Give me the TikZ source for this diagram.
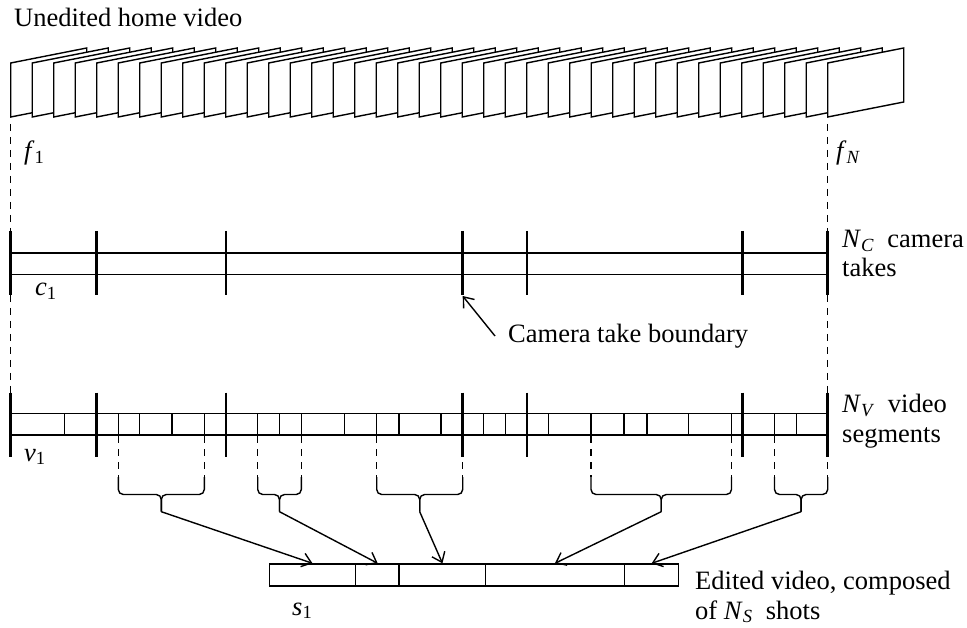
\documentclass[tikz,border=0pt]{standalone}
\usepackage{fontspec}
\setmainfont{Liberation Serif}
\usetikzlibrary{arrows.meta}

\begin{document}
\begin{tikzpicture}[x=1pt, y=-1pt,
  lbl/.style={inner sep=0pt, align=left, font=\fontsize{26.5}{29.5}\selectfont},
  frame/.style={draw, fill=white, line width=1.4pt, line join=miter},
  band/.style={line width=1.6pt},
  tick/.style={line width=2.6pt},
  thintick/.style={line width=1.2pt},
  guide/.style={line width=1.2pt, dash pattern=on 7pt off 6pt},
  shot/.style={draw, line width=1.4pt, minimum height=22pt, inner sep=0pt, anchor=west},
  brc/.style={line width=1.4pt, rounded corners=5pt},
  arr/.style={line width=1.4pt, -{Straight Barb[length=9pt, width=14pt, line width=1.4pt]}}]
  \useasboundingbox (0,0) rectangle (967,628);

  \node[lbl, anchor=base west] (title) at (14,27) {Unedited home video};
  \foreach \i in {0,...,38} {
    \pgfmathsetmacro\fx{10.7+21.5*\i}
    \draw[frame] (\fx,63) -- (\fx,117) -- (\fx+76,102) -- (\fx+76,48) -- cycle;
  }
  \node[lbl, anchor=base west] (f1) at (24,160) {\textit{f}\textsubscript{1}};
  \node[lbl, anchor=base west] (fN) at (836,160) {\textit{f}\textsubscript{\textit{N}}};

  \foreach \x in {10.7,827.7}
    \draw[guide] (\x,124) -- (\x,231) (\x,295) -- (\x,392.7);

  \draw[band] (10.7,253) -- (827.7,253) (10.7,274.5) -- (827.7,274.5);
  \foreach \x in {10.7,96.7,226,462.7,526.9,742.2,827.7}
    \draw[tick] (\x,231) -- (\x,295);
  \coordinate (cut) at (462.7,296);
  \node[lbl, anchor=base west] (c1) at (35,296) {\textit{c}\textsubscript{1}};
  \node[lbl, anchor=base west] (NC) at (842,277) {\textit{N}\textsubscript{\textit{C}}\ \ camera\\takes};
  \node[lbl, anchor=west, inner xsep=13pt] (ctb) at (495,336) {Camera take boundary};
  \draw[arr] (ctb.west) -- (cut);

  \draw[band] (10.7,413.5) -- (827.7,413.5) (10.7,435) -- (827.7,435);
  \foreach \x in {64.3,118.3,139.7,172,204.3,257.7,279.7,301.3,344.3,376.7,399,441,
                  483.3,505.5,548.5,591,624,647,688.5,731.5,774.5,796.7}
    \draw[thintick] (\x,413.5) -- (\x,435);
  \foreach \x in {10.7,96.7,226,462.7,526.9,742.2,827.7}
    \draw[tick] (\x,392.7) -- (\x,456.7);
  \node[lbl, anchor=base west] (v1) at (24,461) {\textit{v}\textsubscript{1}};
  \node[lbl, anchor=base west] (NV) at (842,442) {\textit{N}\textsubscript{\textit{V}}\ \ video\\segments};

  \foreach \a/\b/\n in {118.3/204.3/1, 257.7/301.3/2, 376.7/462.7/3, 591/731.5/4, 774.5/827.7/5} {
    \pgfmathsetmacro\m{(\a+\b)/2}
    \draw[guide] (\a,436) -- (\a,477) (\b,436) -- (\b,477);
    \draw[brc] (\a,477) -- (\a,494.5) -- (\m,494.5) -- (\m,511.7);
    \draw[brc] (\b,477) -- (\b,494.5) -- (\m,494.5) -- (\m,511.7);
    \coordinate (tip\n) at (\m,511.7);
  }

  \foreach \l/\r/\n in {268.5/355/1, 355/399/2, 399/484.5/3, 484.5/624/4, 624/678/5}
    \node[shot, minimum width=\r-\l] (shot\n) at (\l,575) {};
  \draw[line width=2.4pt] (shot3.north west) -- (shot3.south west);
  \foreach \n in {1,...,5}
    \draw[arr] (tip\n) -- (shot\n.north);
  \node[lbl, anchor=base west] (s1) at (292,615) {\textit{s}\textsubscript{1}};
  \node[lbl, anchor=base west] (ed) at (695,619) {Edited video, composed\\of \textit{N}\textsubscript{\textit{S}}\ \ shots};
\end{tikzpicture}
\end{document}
